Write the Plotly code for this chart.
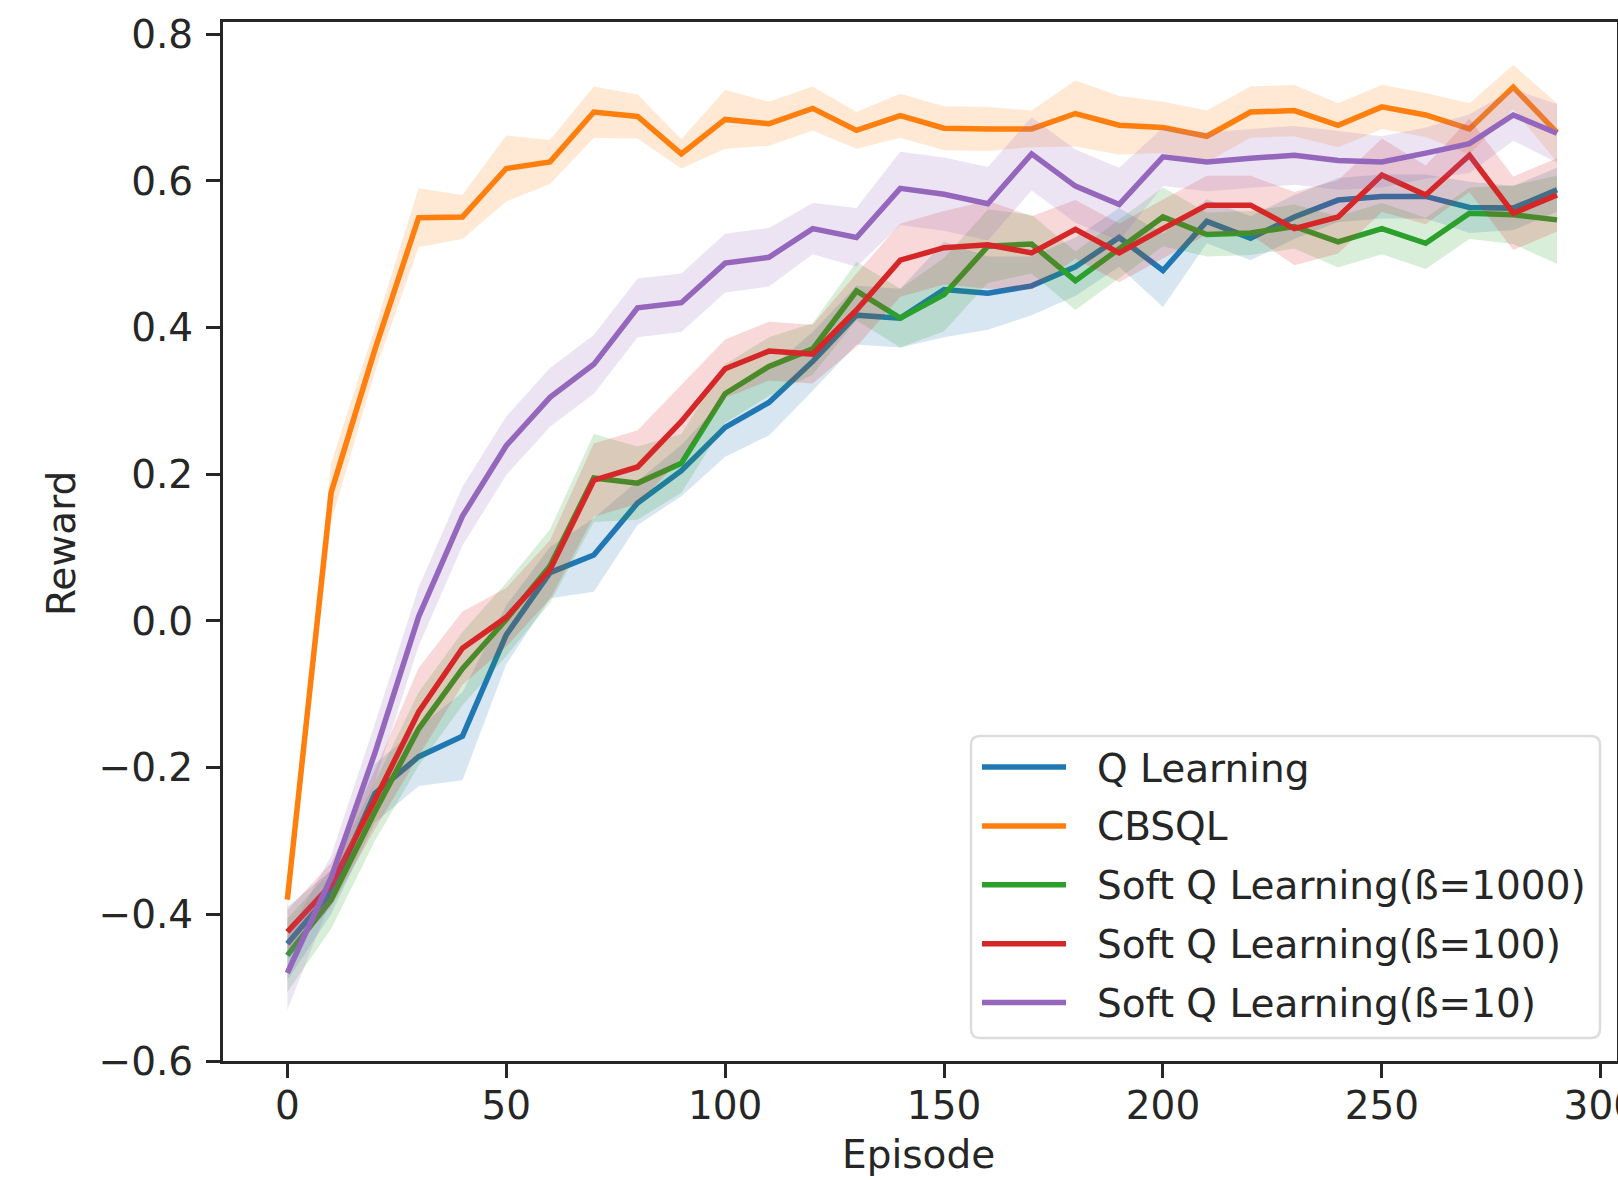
import plotly.graph_objects as go

# ---------------- data ----------------
episodes = list(range(0, 300, 10))

series_names = [
    "Q Learning",
    "CBSQL",
    "Soft Q Learning(ß=1000)",
    "Soft Q Learning(ß=100)",
    "Soft Q Learning(ß=10)",
]

q_learning = [-0.44, -0.37, -0.235, -0.185, -0.157, -0.019, 0.066, 0.09, 0.161, 0.205,
              0.264, 0.298, 0.354, 0.417, 0.413, 0.452, 0.447, 0.457, 0.483, 0.523,
              0.478, 0.545, 0.522, 0.551, 0.574, 0.579, 0.579, 0.564, 0.563, 0.588]
q_learning_sd = [0.05, 0.03, 0.04, 0.04, 0.06, 0.04, 0.035, 0.05, 0.03, 0.035,
                 0.04, 0.045, 0.04, 0.04, 0.04, 0.065, 0.05, 0.04, 0.04, 0.04,
                 0.05, 0.03, 0.03, 0.03, 0.03, 0.03, 0.03, 0.035, 0.03, 0.03]

cbsql = [-0.38, 0.175, 0.37, 0.55, 0.551, 0.617, 0.626, 0.694, 0.688, 0.637,
         0.684, 0.678, 0.699, 0.669, 0.689, 0.672, 0.671, 0.671, 0.692, 0.676,
         0.673, 0.661, 0.694, 0.696, 0.676, 0.701, 0.69, 0.671, 0.728, 0.666]
cbsql_sd = [0.02, 0.04, 0.03, 0.04, 0.03, 0.045, 0.03, 0.035, 0.03, 0.02,
            0.04, 0.03, 0.03, 0.025, 0.03, 0.03, 0.03, 0.025, 0.045, 0.04,
            0.035, 0.035, 0.035, 0.035, 0.03, 0.03, 0.03, 0.035, 0.03, 0.04]

soft_q_1000 = [-0.456, -0.38, -0.26, -0.147, -0.065, 0.002, 0.075, 0.195, 0.188, 0.215,
               0.31, 0.347, 0.371, 0.45, 0.413, 0.445, 0.511, 0.514, 0.464, 0.508,
               0.551, 0.527, 0.529, 0.538, 0.517, 0.535, 0.515, 0.556, 0.554, 0.547]
soft_q_1000_sd = [0.05, 0.04, 0.04, 0.05, 0.05, 0.05, 0.05, 0.06, 0.05, 0.04,
                  0.04, 0.04, 0.035, 0.04, 0.04, 0.05, 0.05, 0.04, 0.04, 0.04,
                  0.04, 0.03, 0.03, 0.03, 0.035, 0.035, 0.035, 0.035, 0.04, 0.06]

soft_q_100 = [-0.424, -0.36, -0.244, -0.124, -0.037, 0.005, 0.07, 0.192, 0.21, 0.272,
              0.344, 0.368, 0.364, 0.424, 0.492, 0.509, 0.513, 0.502, 0.534, 0.502,
              0.535, 0.567, 0.567, 0.535, 0.551, 0.608, 0.581, 0.635, 0.556, 0.581]
soft_q_100_sd = [0.03, 0.03, 0.04, 0.06, 0.05, 0.04, 0.04, 0.05, 0.05, 0.05,
                 0.04, 0.04, 0.04, 0.05, 0.05, 0.05, 0.06, 0.05, 0.04, 0.04,
                 0.04, 0.04, 0.04, 0.05, 0.05, 0.05, 0.04, 0.05, 0.05, 0.05]

soft_q_10 = [-0.48, -0.35, -0.18, 0.006, 0.143, 0.239, 0.305, 0.35, 0.427, 0.434,
             0.488, 0.496, 0.535, 0.523, 0.59, 0.582, 0.569, 0.637, 0.593, 0.568,
             0.633, 0.626, 0.631, 0.635, 0.628, 0.626, 0.638, 0.651, 0.69, 0.665]
soft_q_10_sd = [0.05, 0.03, 0.04, 0.04, 0.04, 0.04, 0.04, 0.04, 0.04, 0.04,
                0.04, 0.04, 0.035, 0.04, 0.05, 0.05, 0.05, 0.05, 0.05, 0.05,
                0.04, 0.04, 0.04, 0.04, 0.04, 0.035, 0.035, 0.04, 0.035, 0.04]

x_ticks = [0, 50, 100, 150, 200, 250, 300]
y_ticks = [-0.6, -0.4, -0.2, 0.0, 0.2, 0.4, 0.6, 0.8]

# ---------------- style ----------------
colors = ["#1f77b4", "#ff7f0e", "#2ca02c", "#d62728", "#9467bd"]
means = [q_learning, cbsql, soft_q_1000, soft_q_100, soft_q_10]
sds = [q_learning_sd, cbsql_sd, soft_q_1000_sd, soft_q_100_sd, soft_q_10_sd]

W, H = 1618, 1180
L, R, T, B = 223, 1, 22, 119
FONT = "DejaVu Sans"
FS = 39
INK = "#262626"


def rgba(hexc, a):
    h = hexc.lstrip("#")
    return "rgba(%d,%d,%d,%s)" % (int(h[0:2], 16), int(h[2:4], 16), int(h[4:6], 16), a)


fig = go.Figure()
for name, col, m, s in zip(series_names, colors, means, sds):
    upper = [a + b for a, b in zip(m, s)]
    lower = [a - b for a, b in zip(m, s)]
    fig.add_trace(go.Scatter(
        x=episodes + episodes[::-1], y=upper + lower[::-1],
        fill="toself", fillcolor=rgba(col, 0.18), line=dict(width=0),
        mode="lines", hoverinfo="skip", showlegend=False))
    fig.add_trace(go.Scatter(
        x=episodes, y=m, mode="lines", name=name,
        line=dict(color=col, width=5.5), showlegend=False))

# ---------------- custom legend (paper coordinates) ----------------
pw = W - L - R
ph = H - T - B


def px(x):
    return (x - L) / pw


def py(y):
    return (H - B - y) / ph


bx0, bx1, by0, by1, rad = 971, 1600, 736, 1038, 9
path = (
    f"M {px(bx0 + rad)},{py(by0)} L {px(bx1 - rad)},{py(by0)} "
    f"Q {px(bx1)},{py(by0)} {px(bx1)},{py(by0 + rad)} "
    f"L {px(bx1)},{py(by1 - rad)} Q {px(bx1)},{py(by1)} {px(bx1 - rad)},{py(by1)} "
    f"L {px(bx0 + rad)},{py(by1)} Q {px(bx0)},{py(by1)} {px(bx0)},{py(by1 - rad)} "
    f"L {px(bx0)},{py(by0 + rad)} Q {px(bx0)},{py(by0)} {px(bx0 + rad)},{py(by0)} Z"
)
shapes = [dict(type="path", xref="paper", yref="paper", path=path,
               fillcolor="rgba(255,255,255,0.8)", line=dict(color="#dcdcdc", width=2.5),
               layer="above")]
annotations = []
row0, row_gap = 767, 58.9
for i, (name, col) in enumerate(zip(series_names, colors)):
    yy = row0 + i * row_gap
    shapes.append(dict(type="line", xref="paper", yref="paper",
                       x0=px(982), x1=px(1066), y0=py(yy), y1=py(yy),
                       line=dict(color=col, width=5.5), layer="above"))
    annotations.append(dict(xref="paper", yref="paper", x=px(1095), y=py(yy + 1),
                            xanchor="left", yanchor="middle", text=name, showarrow=False,
                            font=dict(family=FONT, size=FS, color=INK)))

# axis titles
annotations.append(dict(xref="paper", yref="paper", x=px(918), y=py(1154),
                        xanchor="center", yanchor="middle", text="Episode", showarrow=False,
                        font=dict(family=FONT, size=FS, color=INK)))
annotations.append(dict(xref="paper", yref="paper", x=px(62), y=py(544),
                        xanchor="center", yanchor="middle", text="Reward", showarrow=False,
                        textangle=-90, font=dict(family=FONT, size=FS, color=INK)))

axis_common = dict(
    showgrid=False, zeroline=False, showline=True, linecolor=INK, linewidth=3,
    mirror=True, ticks="outside", ticklen=14, tickwidth=3, tickcolor=INK,
    tickfont=dict(family=FONT, size=FS, color=INK), ticklabeloverflow="allow",
    automargin=False,
)

fig.update_layout(
    width=W, height=H, autosize=False,
    margin=dict(l=L, r=R, t=T, b=B, pad=0, autoexpand=False),
    plot_bgcolor="white", paper_bgcolor="white",
    showlegend=False,
    shapes=shapes, annotations=annotations,
    font=dict(family=FONT, size=FS, color=INK),
    xaxis=dict(range=[-14.69, 303.7], tickvals=x_ticks, ticklabelstandoff=-6, **axis_common),
    yaxis=dict(range=[-0.6, 0.8168], tickvals=y_ticks, tickformat=".1f",
               ticklabelstandoff=5, **axis_common),
)

fig.write_html("out.html", config={"displayModeBar": False},
               post_script="document.body.style.margin='0';document.body.style.overflow='hidden';")
